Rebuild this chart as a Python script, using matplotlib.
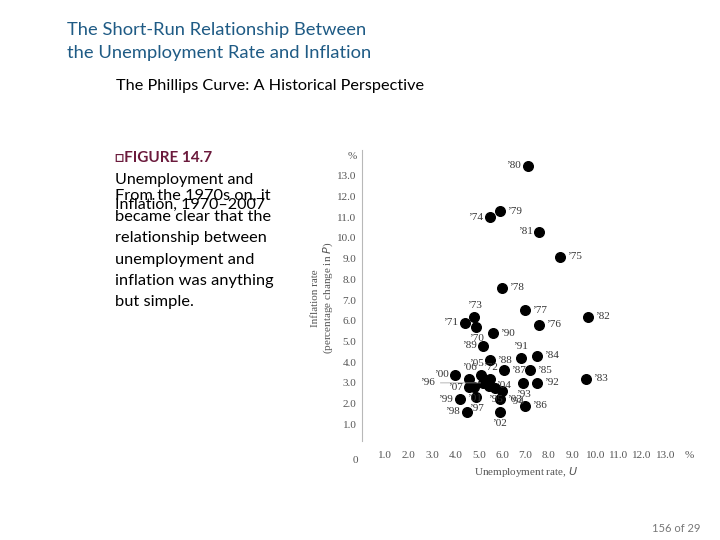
import matplotlib
matplotlib.use("Agg")
import matplotlib.pyplot as plt

# US unemployment vs inflation, 1970-2007
years = ["70", "71", "72", "73", "74", "75", "76", "77", "78", "79",
         "80", "81", "82", "83", "84", "85", "86", "87", "88", "89",
         "90", "91", "92", "93", "94", "95", "96", "97", "98", "99",
         "00", "01", "02", "03", "04", "05", "06", "07"]
unemployment = [4.9, 4.4, 5.5, 4.8, 5.5, 8.5, 7.6, 7.0, 6.0, 5.9,
                7.1, 7.6, 9.7, 9.6, 7.5, 7.2, 7.0, 6.1, 5.5, 5.2,
                5.6, 6.8, 7.5, 6.9, 6.0, 5.7, 5.2, 4.9, 4.5, 4.2,
                4.0, 4.8, 5.9, 5.9, 5.45, 5.1, 4.6, 4.6]
inflation = [5.7, 5.9, 3.2, 6.2, 11.0, 9.1, 5.8, 6.5, 7.6, 11.3,
             13.5, 10.3, 6.2, 3.2, 4.3, 3.6, 1.9, 3.6, 4.1, 4.8,
             5.4, 4.2, 3.0, 3.0, 2.6, 2.75, 3.0, 2.3, 1.6, 2.2,
             3.4, 2.8, 1.6, 2.2, 2.85, 3.4, 3.2, 2.8]
# where each year label sits around its dot
label_pos = {"70": "b", "71": "l", "72": "t", "73": "t", "74": "l", "75": "r",
             "76": "r", "77": "r", "78": "r", "79": "r", "80": "l", "81": "l",
             "82": "r", "83": "r", "84": "r", "85": "r", "86": "r", "87": "r",
             "88": "r", "89": "l", "90": "r", "91": "t", "92": "r", "93": "b",
             "94": "br", "95": "b", "96": "far", "97": "b", "98": "l", "99": "l",
             "00": "l", "01": "b", "02": "b", "03": "r", "04": "r", "05": "tl",
             "06": "t", "07": "l"}

x_ticks = [1, 2, 3, 4, 5, 6, 7, 8, 9, 10, 11, 12, 13, 14]
x_labels = ["1.0", "2.0", "3.0", "4.0", "5.0", "6.0", "7.0", "8.0", "9.0",
            "10.0", "11.0", "12.0", "13.0", "%"]
y_ticks = [1, 2, 3, 4, 5, 6, 7, 8, 9, 10, 11, 12, 13, 14]
y_labels = ["1.0", "2.0", "3.0", "4.0", "5.0", "6.0", "7.0", "8.0", "9.0",
            "10.0", "11.0", "12.0", "13.0", "%"]

serif = "Liberation Serif"
sans = ["Lato", "DejaVu Sans"]
gray = "#555555"

fig = plt.figure(figsize=(7.2, 5.4), dpi=100)
fig.patch.set_facecolor("white")

# slide text
fig.text(67 / 720, 1 - 30 / 540, "The Short-Run Relationship Between",
         family=sans, fontsize=13.2, color="#1f5b85", va="center")
fig.text(67 / 720, 1 - 53 / 540, "the Unemployment Rate and Inflation",
         family=sans, fontsize=13.2, color="#1f5b85", va="center")
fig.text(116 / 720, 1 - 86 / 540, "The Phillips Curve: A Historical Perspective",
         family=sans, fontsize=11.7, color="black", va="center")

fig.text(115 / 720, 1 - 158 / 540, "\u25a1FIGURE 14.7", family=sans,
         fontsize=11, weight="bold", color="#6b1a3c", va="center")
fig.text(115 / 720, 1 - 180 / 540, "Unemployment and", family=sans,
         fontsize=11.5, color="black", va="center")
fig.text(115 / 720, 1 - 205 / 540, "Inflation, 1970\u20132007", family=sans,
         fontsize=11.5, color="black", va="center")
body = ["From the 1970s on, it", "became clear that the", "relationship between",
        "unemployment and", "inflation was anything", "but simple."]
for i, line in enumerate(body):
    fig.text(115 / 720, 1 - (196 + i * 21.2) / 540, line, family=sans,
             fontsize=11.8, color="black", va="center")

fig.text(700 / 720, 1 - 529 / 540, "156 of 29", family=sans, fontsize=8,
         color="#777777", ha="right", va="center")

# chart
ax = fig.add_axes([362 / 720, 1 - 445 / 540, 328 / 720, 295 / 540])
ax.set_xlim(0, 14.05)
ax.set_ylim(0, 14.25)
for s in ["top", "right", "bottom"]:
    ax.spines[s].set_visible(False)
ax.spines["left"].set_color("#b8b8b8")
ax.spines["left"].set_linewidth(0.8)
ax.spines["left"].set_bounds(0.2, 14.25)

ax.scatter(unemployment, inflation, s=48, color="black", zorder=3)

offsets = {"r": (5, 0, "left", "center"), "l": (-5, 0, "right", "center"),
           "t": (0, 5, "center", "bottom"), "b": (0, -5, "center", "top"),
           "tl": (-3, 5, "center", "bottom"), "br": (5, -4, "left", "top")}
for yr, u, p in zip(years, unemployment, inflation):
    pos = label_pos[yr]
    if pos == "far":
        ax.annotate("\u2019" + yr, xy=(u, p), xytext=(-35, 0),
                    textcoords="offset points", ha="right", va="center",
                    family=serif, fontsize=8, color="#333333",
                    arrowprops=dict(arrowstyle="-", color="#999999", lw=0.5))
        continue
    dx, dy, ha, va = offsets[pos]
    ax.annotate("\u2019" + yr, xy=(u, p), xytext=(dx, dy),
                textcoords="offset points", ha=ha, va=va,
                family=serif, fontsize=8, color="#333333")

ax.set_xticks(x_ticks)
ax.set_xticklabels(x_labels, family=serif, fontsize=8, color=gray)
ax.set_yticks(y_ticks)
ax.set_yticklabels(y_labels, family=serif, fontsize=8, color=gray)
ax.tick_params(length=0, pad=4)
ax.annotate("0", xy=(0, 0), xytext=(-5, -11), textcoords="offset points",
            ha="center", va="center", family=serif, fontsize=8, color=gray)

ax.set_xlabel("Unemployment rate, $\\it{U}$", family=serif, fontsize=8,
              color=gray, labelpad=4)
fig.text(323 / 720, 1 - 298 / 540,
         "Inflation rate\n(percentage change in $\\it{P}$)", family=serif,
         fontsize=8, color=gray, rotation=90, ha="center", va="center",
         linespacing=1.1)

fig.savefig("out.png", dpi=100)
